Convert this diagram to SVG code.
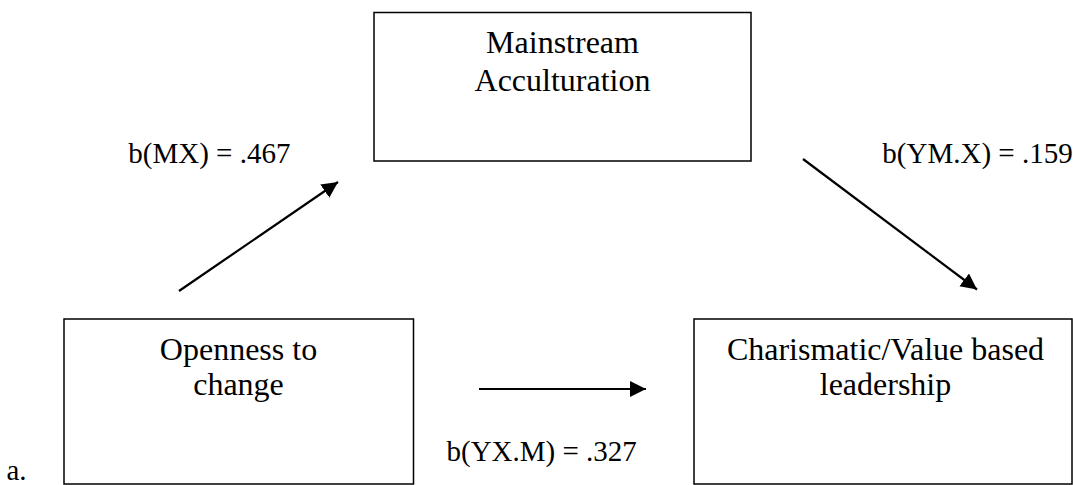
<svg xmlns="http://www.w3.org/2000/svg" width="1073" height="485" viewBox="0 0 1073 485">
<style>
.box{fill:#fff;stroke:#000;stroke-width:1.5}
.nt{font-family:"Liberation Serif","Times New Roman",serif;font-size:32px;fill:#000;text-anchor:middle}
.lb{font-family:"Liberation Serif","Times New Roman",serif;font-size:29px;fill:#000}
.cn{stroke:#000;stroke-width:2.2;fill:none;marker-end:url(#ah)}
</style>
<defs>
<marker id="ah" markerUnits="userSpaceOnUse" markerWidth="18" markerHeight="18" refX="16" refY="8" orient="auto">
<path d="M0,0 L16,8 L0,16 z" fill="#000"/>
</marker>
</defs>
<rect width="1073" height="485" fill="#fff"/>
<g id="node-mainstream">
<rect class="box" x="374" y="12.5" width="377" height="148.5"/>
<text class="nt" x="562.5" y="52.5">Mainstream</text>
<text class="nt" x="562.5" y="90.5">Acculturation</text>
</g>
<g id="node-openness">
<rect class="box" x="64" y="319" width="349.5" height="165"/>
<text class="nt" x="238.5" y="359.5">Openness to</text>
<text class="nt" x="238.5" y="394.5">change</text>
</g>
<g id="node-charismatic">
<rect class="box" x="694" y="319" width="378" height="165"/>
<text class="nt" x="885.5" y="360">Charismatic/Value based</text>
<text class="nt" x="885.5" y="395">leadership</text>
</g>
<g id="connectors">
<line class="cn" x1="179" y1="291" x2="338" y2="182"/>
<line class="cn" x1="803" y1="159" x2="977" y2="289.5"/>
<line class="cn" x1="479" y1="389" x2="646" y2="389"/>
</g>
<g id="labels">
<text class="lb" x="128.3" y="163.3">b(MX) = .467</text>
<text class="lb" x="882.3" y="163.3">b(YM.X) = .159</text>
<text class="lb" x="446.5" y="460.7">b(YX.M) = .327</text>
<text class="lb" x="6.5" y="480">a.</text>
</g>
</svg>
